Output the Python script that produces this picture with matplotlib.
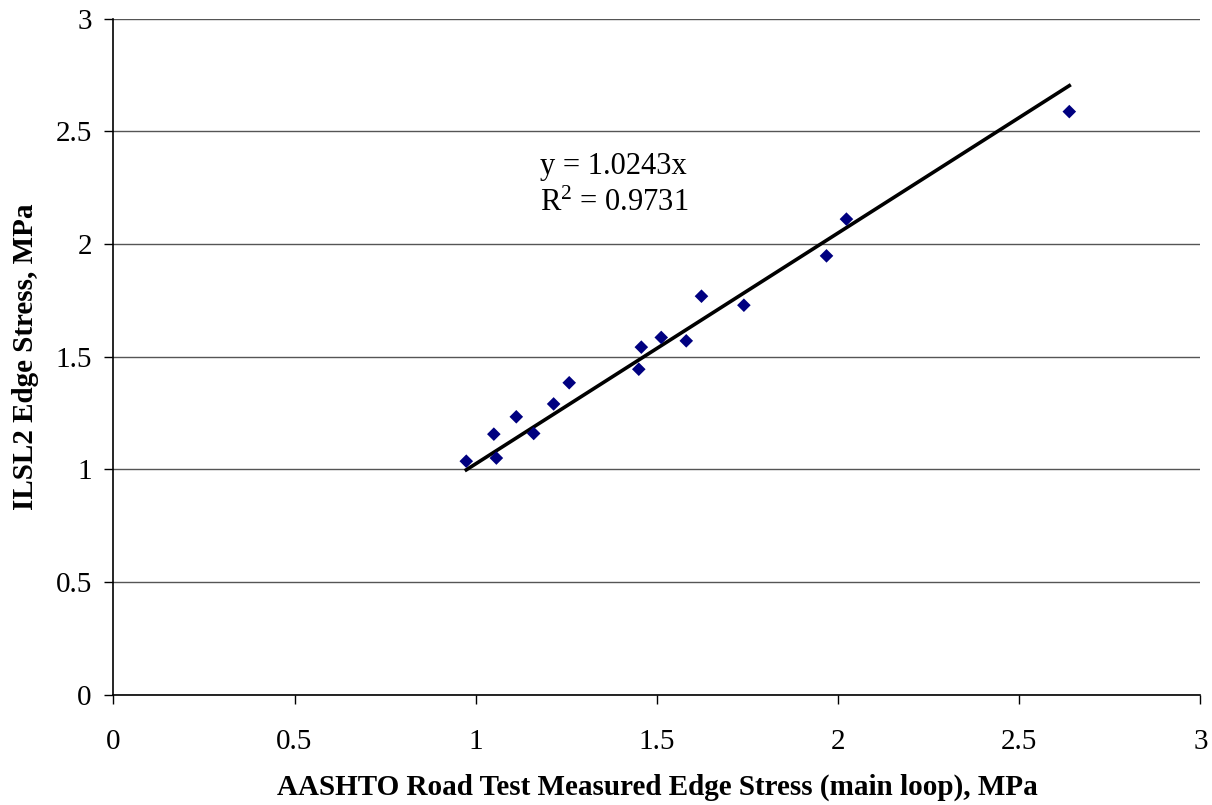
import matplotlib
matplotlib.use("Agg")
import matplotlib.pyplot as plt
import numpy as np

# Measured vs. ILSL2-computed edge stresses (MPa)
measured = [0.974, 1.050, 1.057, 1.112, 1.160, 1.215, 1.258, 1.450, 1.457,
            1.512, 1.581, 1.623, 1.740, 1.968, 2.023, 2.638]
ilsl2 = [1.036, 1.156, 1.050, 1.233, 1.159, 1.290, 1.384, 1.444, 1.542,
         1.585, 1.570, 1.768, 1.728, 1.947, 2.110, 2.587]
slope = 1.0243
r_squared = 0.9731

x_ticks = [0, 0.5, 1, 1.5, 2, 2.5, 3]
y_ticks = [0, 0.5, 1, 1.5, 2, 2.5, 3]

plt.rcParams['font.family'] = ['Liberation Serif', 'DejaVu Serif']
plt.rcParams['mathtext.fontset'] = 'custom'
plt.rcParams['mathtext.rm'] = 'Liberation Serif'
plt.rcParams['mathtext.it'] = 'Liberation Serif:italic'
plt.rcParams['mathtext.bf'] = 'Liberation Serif:bold'

fig = plt.figure(figsize=(12.12, 8.05), dpi=100)
ax = fig.add_axes([0.0935, 0.137, 0.897, 0.840])

ax.set_xlim(0, 3)
ax.set_ylim(0, 3)
ax.set_xticks(x_ticks)
ax.set_yticks(y_ticks)
ax.set_xticklabels([f"{t:g}" for t in x_ticks])
ax.set_yticklabels([f"{t:g}" for t in y_ticks])

ax.yaxis.grid(True, color='#555555', linewidth=1.0)
ax.set_axisbelow(True)

for side in ('top', 'right'):
    ax.spines[side].set_visible(False)
for side in ('left', 'bottom'):
    ax.spines[side].set_linewidth(1.2)
    ax.spines[side].set_color('black')

ax.tick_params(axis='both', direction='out', length=6.5, width=1.0,
               labelsize=21, colors='black')
ax.tick_params(axis='x', pad=18)
ax.tick_params(axis='y', pad=9)

# Linear trendline through the origin
xs = np.array([min(measured), max(measured)])
ax.plot(xs, slope * xs, color='black', linewidth=2.6, zorder=2)

ax.scatter(measured, ilsl2, marker='D', s=48, color='#000080',
           edgecolors='none', zorder=3, clip_on=False)

ax.text(1.177, 2.345, f"y = {slope}x", fontsize=22, ha='left', va='center')
ax.text(1.177, 2.178, r"R$^{\mathrm{2}}$" + f" = {r_squared}", fontsize=22,
        ha='left', va='center')

ax.set_xlabel("AASHTO Road Test Measured Edge Stress (main loop), MPa",
              fontsize=21, fontweight='bold', va='center')
ax.xaxis.set_label_coords(0.5, -0.137)
ax.set_ylabel("ILSL2 Edge Stress, MPa", fontsize=21, fontweight='bold',
              va='center')
ax.yaxis.set_label_coords(-0.0805, 0.5)

fig.savefig("out.png", dpi=100, facecolor='white')
